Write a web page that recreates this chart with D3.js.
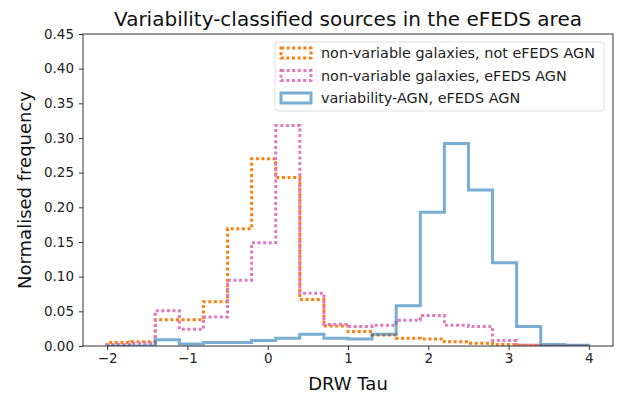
<!DOCTYPE html>
<html>
<head>
<meta charset="utf-8">
<script src="https://cdn.jsdelivr.net/npm/d3@7"></script>
<style>
  body { margin: 0; background: #fff; }
  svg { font-family: "DejaVu Sans", sans-serif; }
</style>
</head>
<body>
<svg width="628" height="394"></svg>
<script>
const binEdges = [-2.0, -1.7, -1.4, -1.1, -0.8, -0.5, -0.2, 0.1, 0.4, 0.7, 1.0,
  1.3, 1.6, 1.9, 2.2, 2.5, 2.8, 3.1, 3.4, 3.7, 4.0]

const nonVarNotAgn = [0.005, 0.006, 0.038, 0.038, 0.064, 0.169, 0.270, 0.243, 0.067, 0.029,
  0.021, 0.016, 0.011, 0.010, 0.006, 0.004, 0.002, 0.001, 0, 0]
const nonVarAgn = [0.002, 0.004, 0.051, 0.024, 0.042, 0.095, 0.149, 0.318, 0.076, 0.031,
  0.028, 0.030, 0.037, 0.044, 0.030, 0.028, 0.008, 0.001, 0, 0]
const varAgn = [0, 0, 0.009, 0.003, 0.005, 0.005, 0.008, 0.011, 0.017, 0.011,
  0.010, 0.017, 0.058, 0.193, 0.292, 0.225, 0.120, 0.028, 0.002, 0.001]

const xTicks = [-2, -1, 0, 1, 2, 3, 4]
const yTicks = [0, 0.05, 0.1, 0.15, 0.2, 0.25, 0.3, 0.35, 0.4, 0.45]

const series = [
  {label: 'non-variable galaxies, not eFEDS AGN', values: nonVarNotAgn, color: '#ff7f0e', dash: '3,2.6', opacity: 1},
  {label: 'non-variable galaxies, eFEDS AGN', values: nonVarAgn, color: '#e377c2', dash: '3,2.6', opacity: 1},
  {label: 'variability-AGN, eFEDS AGN', values: varAgn, color: '#1f77b4', dash: null, opacity: 0.6}
]

const width = 628
const height = 394
const margin = {top: 34, right: 15, bottom: 48, left: 83}

const svg = d3.select('svg')

const x = d3.scaleLinear()
  .domain([-2.3, 4.3])
  .range([margin.left, width - margin.right])

const y = d3.scaleLinear()
  .domain([0, 0.45])
  .range([height - margin.bottom, margin.top])

// step outlines like matplotlib histtype='step'
function stepPoints(values) {
  const pts = [[binEdges[0], 0]]
  values.forEach((v, i) => {
    pts.push([binEdges[i], v])
    pts.push([binEdges[i + 1], v])
  })
  pts.push([binEdges[binEdges.length - 1], 0])
  return pts
}

const line = d3.line()
  .x(d => x(d[0]))
  .y(d => y(d[1]))

svg.append('clipPath').attr('id', 'plotclip')
  .append('rect')
  .attr('x', margin.left)
  .attr('y', margin.top)
  .attr('width', width - margin.left - margin.right)
  .attr('height', height - margin.top - margin.bottom)

svg.append('g')
  .attr('clip-path', 'url(#plotclip)')
  .selectAll('path.hist')
  .data(series)
  .join('path')
  .attr('class', 'hist')
  .attr('d', d => line(stepPoints(d.values)))
  .attr('fill', 'none')
  .attr('stroke', d => d.color)
  .attr('stroke-opacity', d => d.opacity)
  .attr('stroke-width', 3)
  .attr('stroke-dasharray', d => d.dash)

const xAxis = g => g
  .attr('transform', `translate(0, ${height - margin.bottom})`)
  .call(d3.axisBottom(x).tickValues(xTicks).tickSize(4).tickPadding(3)
    .tickFormat(d => d < 0 ? '\u2212' + Math.abs(d) : d))
  .call(g => g.select('.domain').remove())

const yAxis = g => g
  .attr('transform', `translate(${margin.left}, 0)`)
  .call(d3.axisLeft(y).tickValues(yTicks).tickSize(4).tickPadding(5)
    .tickFormat(d3.format('.2f')))
  .call(g => g.select('.domain').remove())

svg.append('g').call(xAxis)
svg.append('g').call(yAxis)

svg.selectAll('.tick text').attr('font-size', 13.5).attr('fill', '#222')
  .attr('font-family', '"DejaVu Sans", sans-serif')
svg.selectAll('.tick line').attr('stroke', '#333')

svg.append('rect')
  .attr('x', margin.left)
  .attr('y', margin.top)
  .attr('width', width - margin.left - margin.right)
  .attr('height', height - margin.top - margin.bottom)
  .attr('fill', 'none')
  .attr('stroke', '#333')
  .attr('stroke-width', 1)

svg.append('text')
  .attr('x', (margin.left + width - margin.right) / 2)
  .attr('y', 26)
  .attr('text-anchor', 'middle')
  .attr('font-size', 20)
  .attr('fill', '#111')
  .text('Variability-classified sources in the eFEDS area')

svg.append('text')
  .attr('x', (margin.left + width - margin.right) / 2)
  .attr('y', 390)
  .attr('text-anchor', 'middle')
  .attr('font-size', 18)
  .attr('fill', '#111')
  .text('DRW Tau')

svg.append('text')
  .attr('transform', `translate(31, ${(margin.top + height - margin.bottom) / 2}) rotate(-90)`)
  .attr('text-anchor', 'middle')
  .attr('font-size', 18)
  .attr('fill', '#111')
  .text('Normalised frequency')

// legend
const legend = svg.append('g').attr('transform', 'translate(275, 42)')
legend.append('rect')
  .attr('width', 329)
  .attr('height', 69)
  .attr('rx', 3)
  .attr('fill', '#fff')
  .attr('fill-opacity', 0.8)
  .attr('stroke', '#ddd')

const item = legend.selectAll('g.item')
  .data(series)
  .join('g')
  .attr('class', 'item')
  .attr('transform', (d, i) => `translate(0, ${11 + i * 22.5})`)

item.append('rect')
  .attr('x', 6)
  .attr('y', -5)
  .attr('width', 30)
  .attr('height', 10)
  .attr('fill', 'none')
  .attr('stroke', d => d.color)
  .attr('stroke-opacity', d => d.opacity)
  .attr('stroke-width', 3)
  .attr('stroke-dasharray', d => d.dash)

item.append('text')
  .attr('x', 46)
  .attr('y', 5)
  .attr('font-size', 14.4)
  .attr('fill', '#222')
  .text(d => d.label)
</script>
</body>
</html>
